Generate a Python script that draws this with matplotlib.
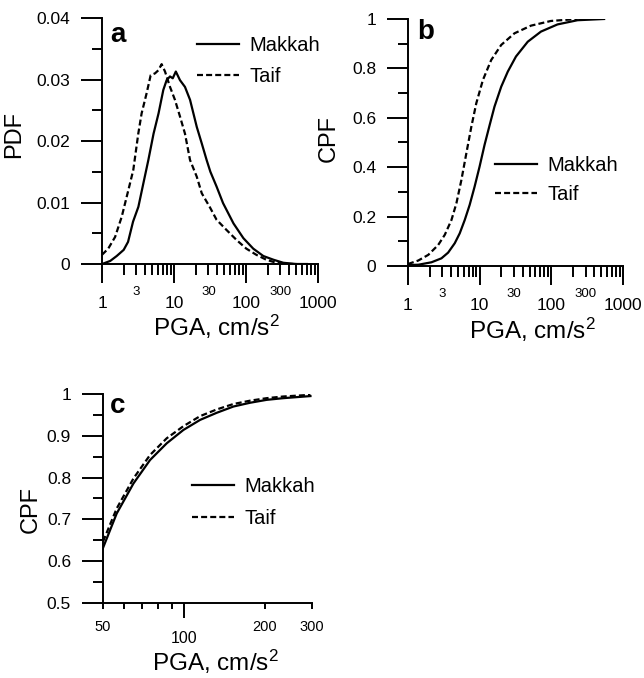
import matplotlib
matplotlib.use('Agg')
import matplotlib.pyplot as plt
from matplotlib.ticker import FixedLocator, FixedFormatter

plt.rcParams['font.family'] = ['Liberation Sans', 'DejaVu Sans']
plt.rcParams['mathtext.default'] = 'regular'

# ---- values ----
# (a) PDF
pga_pdf_makkah = [1.0, 1.3, 1.6, 2.0, 2.3, 2.7, 3.2, 3.75, 4.4, 5.2, 6.1, 7.1, 7.9, 8.8, 9.6,
                  10.6, 12.1, 14.2, 16.7, 20.7, 24.3, 28.4, 32, 39, 48, 67, 92, 126, 174, 240,
                  330, 500, 700]
pdf_makkah = [0.0, 0.0005, 0.0013, 0.0023, 0.0036, 0.0069, 0.0093, 0.0131, 0.0169, 0.0212,
              0.0245, 0.0283, 0.0299, 0.0305, 0.0302, 0.0313, 0.0299, 0.0288, 0.0267, 0.0223,
              0.0196, 0.0169, 0.0150, 0.0126, 0.0099, 0.0066, 0.0042, 0.0025, 0.0013, 0.0007,
              0.0002, 0.0, 0.0]
pga_pdf_taif = [1.0, 1.22, 1.52, 1.88, 2.32, 2.72, 3.19, 3.55, 4.17, 4.74, 5.44, 6.06, 6.73,
                7.5, 8.8, 10.3, 12.1, 14.2, 16.7, 20.7, 24.3, 31.6, 39, 54, 74, 101, 139, 191,
                263, 362, 500]
pdf_taif = [0.0015, 0.0025, 0.0044, 0.0077, 0.0120, 0.0153, 0.0212, 0.0245, 0.0278, 0.0307,
            0.0310, 0.0315, 0.0325, 0.0313, 0.0288, 0.0267, 0.0240, 0.0212, 0.0169, 0.0142,
            0.0115, 0.0092, 0.0072, 0.0055, 0.0039, 0.0025, 0.0015, 0.0007, 0.0002, 0.0, 0.0]

# (b) CPF
pga_cpf_makkah = [1.0, 1.39, 2.13, 2.93, 3.63, 4.49, 5.27, 6.19, 7.25, 8.5, 9.97, 11.7, 13.8,
                  16.1, 20.0, 24.7, 32.1, 46.9, 71.7, 122, 232, 545]
cpf_makkah = [0.004, 0.005, 0.015, 0.031, 0.054, 0.092, 0.132, 0.186, 0.247, 0.321, 0.402,
              0.49, 0.571, 0.645, 0.726, 0.787, 0.848, 0.908, 0.949, 0.978, 0.995, 1.0]
pga_cpf_taif = [1.0, 1.39, 1.92, 2.64, 3.26, 4.04, 4.74, 5.56, 6.52, 7.66, 8.98, 11.1, 14.5,
                20, 30.6, 52, 98.6, 232]
cpf_taif = [0.008, 0.022, 0.045, 0.085, 0.126, 0.186, 0.254, 0.348, 0.456, 0.564, 0.659,
            0.753, 0.834, 0.895, 0.942, 0.973, 0.992, 1.0]

# (c) CPF, upper range
pga_c = [50, 56.2, 64.9, 74.8, 86.3, 99.6, 114.9, 132.5, 152.9, 176.3, 203.4, 234.6, 296]
cpf_c_makkah = [0.632, 0.714, 0.786, 0.842, 0.882, 0.914, 0.938, 0.955, 0.970, 0.979, 0.986,
                0.990, 0.995]
cpf_c_taif = [0.647, 0.726, 0.798, 0.854, 0.894, 0.923, 0.947, 0.963, 0.976, 0.984, 0.990,
              0.994, 0.998]

# ticks
x_major_ab = [1, 10, 100, 1000]
x_minor_ab = [d * m for d in (1, 10, 100) for m in range(2, 10)]
x_minor_lab_ab = {3: '3', 30: '30', 300: '300'}
x_major_c = [100]
x_minor_c = [50, 60, 70, 80, 90, 200, 300]
x_minor_lab_c = {50: '50', 200: '200', 300: '300'}

y_major_a = [0, 0.01, 0.02, 0.03, 0.04]
y_lab_a = ['0', '0.01', '0.02', '0.03', '0.04']
y_major_b = [0, 0.2, 0.4, 0.6, 0.8, 1.0]
y_lab_b = ['0', '0.2', '0.4', '0.6', '0.8', '1']
y_major_c = [0.5, 0.6, 0.7, 0.8, 0.9, 1.0]
y_lab_c = ['0.5', '0.6', '0.7', '0.8', '0.9', '1']

DASH = (0, (2.7, 1.4))
LW = 1.6
xlabel = 'PGA, cm/s$^2$'


def setup(ax, ylim, yticks, ylabels, xmaj, xmin, minlabs, xmaj_len, xmin_len,
          xmaj_size, xmin_size):
    ax.spines['top'].set_visible(False)
    ax.spines['right'].set_visible(False)
    for s in ('left', 'bottom'):
        ax.spines[s].set_linewidth(1.4)
    ax.set_xscale('log')
    ax.set_ylim(*ylim)
    ax.yaxis.set_major_locator(FixedLocator(yticks))
    ax.yaxis.set_major_formatter(FixedFormatter(ylabels))
    step = yticks[1] - yticks[0]
    ax.yaxis.set_minor_locator(FixedLocator([t + step / 2 for t in yticks[:-1]]))
    ax.xaxis.set_major_locator(FixedLocator(xmaj))
    ax.xaxis.set_major_formatter(FixedFormatter([str(v) for v in xmaj]))
    ax.xaxis.set_minor_locator(FixedLocator(xmin))
    ax.xaxis.set_minor_formatter(FixedFormatter([minlabs.get(v, '') for v in xmin]))
    ax.tick_params(axis='y', which='major', direction='out', length=15, width=1.4,
                   labelsize=12.5, pad=8)
    ax.tick_params(axis='y', which='minor', direction='out', length=7.5, width=1.4)
    ax.tick_params(axis='x', which='major', direction='out', length=xmaj_len, width=1.4,
                   labelsize=xmaj_size, pad=9)
    ax.tick_params(axis='x', which='minor', direction='out', length=xmin_len, width=1.4,
                   labelsize=xmin_size, pad=8)


fig = plt.figure(figsize=(6.44, 6.78), dpi=100)

# ---- (a) ----
ax = fig.add_axes([0.1584, 0.6106, 0.3354, 0.3628])
ax.plot(pga_pdf_makkah, pdf_makkah, color='black', lw=LW, label='Makkah')
ax.plot(pga_pdf_taif, pdf_taif, color='black', lw=LW, linestyle=DASH, label='Taif')
ax.set_xlim(1, 1000)
setup(ax, (0, 0.04), y_major_a, y_lab_a, x_major_ab, x_minor_ab, x_minor_lab_ab,
      13.7, 7.9, 12.5, 9.5)
ax.set_ylabel('PDF', fontsize=17)
ax.yaxis.set_label_coords(-0.356, 0.528)
ax.set_xlabel(xlabel, fontsize=17.5)
ax.xaxis.set_label_coords(0.53, -0.2)
ax.text(0.037, 0.985, 'a', transform=ax.transAxes, fontsize=20, fontweight='bold',
        va='top', ha='left')
ax.legend(loc='center left', bbox_to_anchor=(0.44, 0.825), frameon=False, fontsize=14.5,
          handlelength=2.1, handletextpad=0.5, labelspacing=0.6, borderpad=0,
          borderaxespad=0)

# ---- (b) ----
ax = fig.add_axes([0.6335, 0.6077, 0.3339, 0.3643])
ax.plot(pga_cpf_makkah, cpf_makkah, color='black', lw=LW, label='Makkah')
ax.plot(pga_cpf_taif, cpf_taif, color='black', lw=LW, linestyle=DASH, label='Taif')
ax.set_xlim(1, 1000)
setup(ax, (0, 1.0), y_major_b, y_lab_b, x_major_ab, x_minor_ab, x_minor_lab_ab,
      13.7, 7.9, 12.5, 9.5)
ax.set_ylabel('CPF', fontsize=17)
ax.yaxis.set_label_coords(-0.316, 0.518)
ax.set_xlabel(xlabel, fontsize=17.5)
ax.xaxis.set_label_coords(0.577, -0.2)
ax.text(0.042, 1.0, 'b', transform=ax.transAxes, fontsize=20, fontweight='bold',
        va='top', ha='left')
ax.legend(loc='center left', bbox_to_anchor=(0.405, 0.348), frameon=False, fontsize=14.5,
          handlelength=2.1, handletextpad=0.5, labelspacing=0.45, borderpad=0,
          borderaxespad=0)

# ---- (c) ----
ax = fig.add_axes([0.16, 0.1106, 0.3245, 0.3083])
ax.plot(pga_c, cpf_c_makkah, color='black', lw=LW, label='Makkah')
ax.plot(pga_c, cpf_c_taif, color='black', lw=LW, linestyle=DASH, label='Taif')
ax.set_xlim(50, 300)
setup(ax, (0.5, 1.0), y_major_c, y_lab_c, x_major_c, x_minor_c, x_minor_lab_c,
      10.8, 4.3, 11.5, 10.5)
ax.set_ylabel('CPF', fontsize=17)
ax.yaxis.set_label_coords(-0.292, 0.445)
ax.set_xlabel(xlabel, fontsize=17.5)
ax.xaxis.set_label_coords(0.536, -0.212)
ax.text(0.033, 1.005, 'c', transform=ax.transAxes, fontsize=20, fontweight='bold',
        va='top', ha='left')
ax.legend(loc='center left', bbox_to_anchor=(0.426, 0.481), frameon=False, fontsize=14.5,
          handlelength=2.1, handletextpad=0.5, labelspacing=0.65, borderpad=0,
          borderaxespad=0)

fig.savefig('out.png', dpi=100)
